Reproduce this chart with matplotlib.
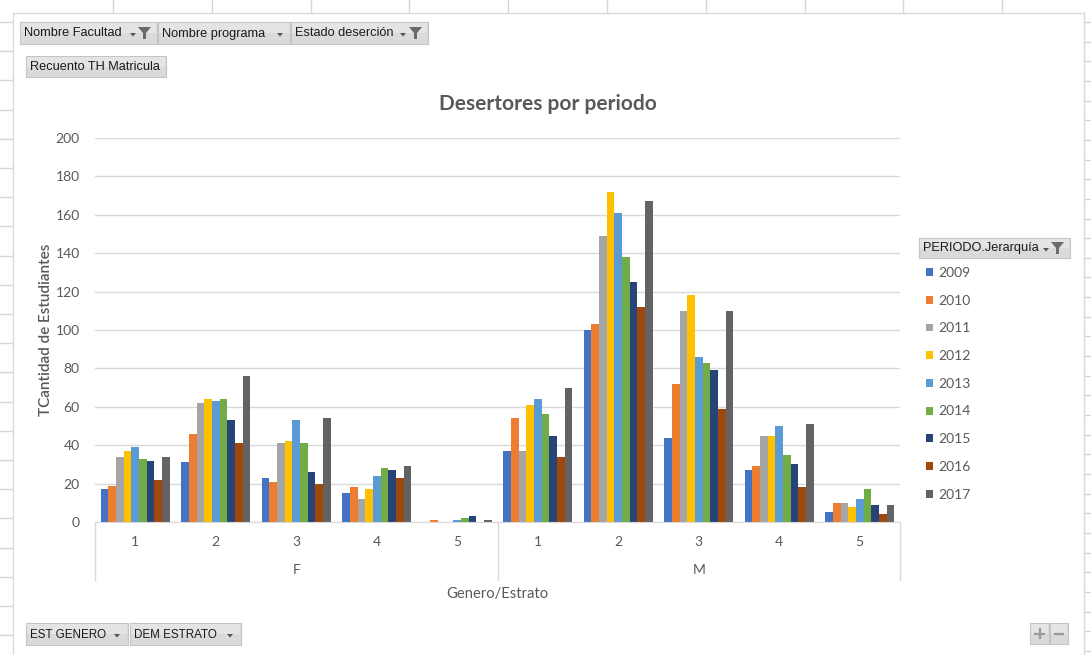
import matplotlib
matplotlib.use("Agg")
import matplotlib.pyplot as plt
from matplotlib.patches import Rectangle, Polygon
from matplotlib.lines import Line2D
import matplotlib.transforms as mtransforms
import numpy as np

# ---------------- data ----------------
genders = ["F", "M"]
strata = ["1", "2", "3", "4", "5"]
years = ["2009", "2010", "2011", "2012", "2013", "2014", "2015", "2016", "2017"]
# values per year, categories F1..F5, M1..M5
y2009 = [17, 31, 23, 15, 0, 37, 100, 44, 27, 5]
y2010 = [19, 46, 21, 18, 1, 54, 103, 72, 29, 10]
y2011 = [34, 62, 41, 12, 0, 37, 149, 110, 45, 10]
y2012 = [37, 64, 42, 17, 0, 61, 172, 118, 45, 8]
y2013 = [39, 63, 53, 24, 1, 64, 161, 86, 50, 12]
y2014 = [33, 64, 41, 28, 2, 56, 138, 83, 35, 17]
y2015 = [32, 53, 26, 27, 3, 45, 125, 79, 30, 9]
y2016 = [22, 41, 20, 23, 0, 34, 112, 59, 18, 4]
y2017 = [34, 76, 54, 29, 1, 70, 167, 110, 51, 9]
series = [y2009, y2010, y2011, y2012, y2013, y2014, y2015, y2016, y2017]
colors = ["#4472C4", "#ED7D31", "#A5A5A5", "#FFC000", "#5B9BD5",
          "#70AD47", "#264478", "#9E480E", "#636363"]
yticks = [0, 20, 40, 60, 80, 100, 120, 140, 160, 180, 200]

W, H = 1091, 655
FONT = "Lato"
TXT = "#595959"

fig = plt.figure(figsize=(W / 100, H / 100), dpi=100)
fig.patch.set_facecolor("white")

# ---------- background overlay in pixel coordinates ----------
bg = fig.add_axes([0, 0, 1, 1], zorder=0)
bg.set_xlim(0, W)
bg.set_ylim(H, 0)
bg.axis("off")

gridc = "#d6d6d6"
for x in [113, 212, 311, 409, 508, 607, 706, 805, 903, 1002]:
    bg.add_line(Line2D([x, x], [0, 12], color=gridc, lw=1))
for k in range(23):
    y = 22 + 29.2 * k
    bg.add_line(Line2D([0, 12], [y, y], color=gridc, lw=1))
for k in range(33):
    y = 22 + 19.65 * k
    bg.add_line(Line2D([1085, W], [y, y], color=gridc, lw=1))
# chart area border
bg.add_line(Line2D([13, 13], [13, H], color="#d9d9d9", lw=1))
bg.add_line(Line2D([13, 1084], [13, 13], color="#d9d9d9", lw=1))
bg.add_line(Line2D([1084, 1084], [13, H], color="#d9d9d9", lw=1))


def button(x0, x1, y0, y1, label, arrow=None, funnel=None, size=9.2):
    bg.add_patch(Rectangle((x0, y0), x1 - x0, y1 - y0, facecolor="#dadada",
                           edgecolor="#c4c4c4", lw=0.8))
    bg.add_patch(Rectangle((x0 + 1, y0 + 1), x1 - x0 - 2, (y1 - y0) / 2 - 1,
                           facecolor="#e4e4e4", edgecolor="none"))
    if label:
        bg.text(x0 + 4, (y0 + y1) / 2 + 0.5, label, fontsize=size,
                family="Liberation Sans", color="#1a1a1a", va="center", ha="left")
    yc = (y0 + y1) / 2
    if arrow is not None:
        bg.add_patch(Polygon([[arrow, yc], [arrow + 6, yc], [arrow + 3, yc + 3.5]],
                             closed=True, facecolor="#555555", edgecolor="none"))
    if funnel is not None:
        fx = funnel
        bg.add_patch(Polygon([[fx, yc - 6], [fx + 13, yc - 6], [fx + 8, yc],
                              [fx + 8, yc + 6], [fx + 5, yc + 6], [fx + 5, yc]],
                             closed=True, facecolor="#6a6a6a", edgecolor="none"))


button(20, 157, 22, 44, "Nombre Facultad", arrow=130, funnel=138)
button(158, 290, 22, 44, "Nombre programa", arrow=277)
button(291, 428, 22, 44, "Estado deserción", arrow=400, funnel=409)
button(26, 166, 56, 77, "Recuento TH Matricula")
button(26, 128, 623, 645, "EST GENERO", arrow=114, size=8.4)
button(130, 241, 623, 645, "DEM ESTRATO", arrow=227, size=8.4)
button(919, 1070, 238, 258, "PERIODO.Jerarquía", arrow=1043, funnel=1051)
# + / - buttons
button(1030, 1049, 623, 644, None)
button(1050, 1068, 623, 644, None)
bg.add_line(Line2D([1035, 1044], [633.5, 633.5], color="#9a9a9a", lw=1.6))
bg.add_line(Line2D([1039.5, 1039.5], [629, 638], color="#9a9a9a", lw=1.6))
bg.add_line(Line2D([1055, 1063], [633.5, 633.5], color="#9a9a9a", lw=1.6))

# ---------------- main chart ----------------
left, right, top, bottom = 95, 900, 138, 522
ax = fig.add_axes([left / W, 1 - bottom / H, (right - left) / W, (bottom - top) / H], zorder=1)
ax.set_facecolor("none")

ncat = len(genders) * len(strata)
centers = np.arange(ncat) + 0.5
group_w = 0.857
bw = group_w / len(years)
handles = []
for i, (yr, vals, c) in enumerate(zip(years, series, colors)):
    xs = centers - group_w / 2 + bw * (i + 0.5)
    b = ax.bar(xs, vals, width=bw, color=c, edgecolor="none", label=yr, zorder=2)
    handles.append(b)

ax.set_xlim(0, ncat)
ax.set_ylim(0, 200)
ax.set_yticks(yticks)
ax.yaxis.grid(True, color="#d9d9d9", lw=1)
ax.set_axisbelow(True)
for s in ["top", "right", "left"]:
    ax.spines[s].set_visible(False)
ax.spines["bottom"].set_color("#d9d9d9")
ax.tick_params(axis="y", length=0, pad=11, labelsize=10, labelcolor=TXT)
for lab in ax.get_yticklabels():
    lab.set_family(FONT)

ax.set_xticks(centers)
ax.set_xticklabels(strata * len(genders), family=FONT, fontsize=10, color=TXT)
ax.tick_params(axis="x", length=0, pad=10)

# outer category level
trans = mtransforms.blended_transform_factory(ax.transData, ax.transAxes)
for xb in [0, 5, 10]:
    ax.add_line(Line2D([xb, xb], [0, -58 / 384], transform=trans, color="#d9d9d9",
                       lw=1, clip_on=False))
for gi, g in enumerate(genders):
    ax.text(gi * 5 + 2.5, -48 / 384, g, transform=trans, ha="center", va="center",
            family=FONT, fontsize=10, color=TXT)

ax.text(0.5, -72 / 384, "Genero/Estrato", transform=ax.transAxes, ha="center",
        va="center", family=FONT, fontsize=10.6, color=TXT)
ax.set_ylabel("TCantidad de Estudiantes", family=FONT, fontsize=11, color=TXT,
              fontweight="semibold")
ax.yaxis.set_label_coords((53 - left) / (right - left), 0.5)

fig.text(548 / W, 1 - 104 / H, "Desertores por periodo", ha="center", va="center",
         family=FONT, fontsize=15, fontweight="bold", color=TXT)

leg = fig.legend(handles=handles, labels=years, loc="upper left",
                 bbox_to_anchor=(926 / W, 1 - 267 / H), frameon=False,
                 prop={"family": FONT, "size": 10}, labelcolor=TXT,
                 handlelength=0.5, handleheight=0.5, handletextpad=0.35,
                 labelspacing=1.13, borderpad=0, borderaxespad=0)

fig.savefig("out.png", dpi=100)
